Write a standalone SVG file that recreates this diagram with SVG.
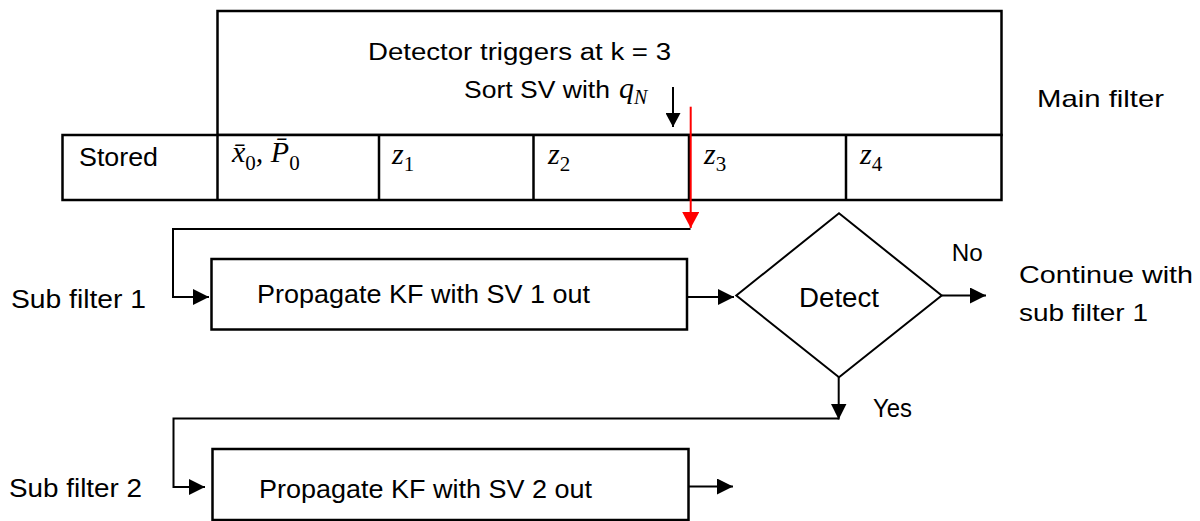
<svg xmlns="http://www.w3.org/2000/svg" width="1200" height="521" viewBox="0 0 1200 521">
<style>
.box{fill:#fff;stroke:#000;stroke-width:2.5}
.ln{fill:none;stroke:#000;stroke-width:2}
.t{font-family:"Liberation Sans",Arial,sans-serif;fill:#000}
.m{font-family:"Liberation Serif","Times New Roman",serif;font-style:italic;font-size:30px;fill:#000}
.sub{font-style:normal;font-size:21px}
</style>
<defs>
<marker id="ah" markerUnits="userSpaceOnUse" markerWidth="16" markerHeight="16" refX="16" refY="8" orient="auto" viewBox="0 0 16 16"><path d="M0,0 L16,8 L0,16 z" fill="#000"/></marker>
<marker id="ahs" markerUnits="userSpaceOnUse" markerWidth="14" markerHeight="15" refX="14" refY="7.5" orient="auto" viewBox="0 0 14 15"><path d="M0,0 L14,7.5 L0,15 z" fill="#000"/></marker>
<marker id="ahr" markerUnits="userSpaceOnUse" markerWidth="16" markerHeight="17" refX="16" refY="8.5" orient="auto" viewBox="0 0 16 17"><path d="M0,0 L16,8.5 L0,17 z" fill="#f00"/></marker>
</defs>
<rect width="1200" height="521" fill="#fff"/>

<g id="main-filter">
<rect class="box" x="217.5" y="11" width="784" height="124"/>
<text class="t" x="368" y="59.5" font-size="23" textLength="303" lengthAdjust="spacingAndGlyphs">Detector triggers at k = 3</text>
<text class="t" x="464" y="97.7" font-size="23" textLength="146" lengthAdjust="spacingAndGlyphs">Sort SV with</text>
<text class="m" x="619" y="97.5">q<tspan font-size="20" dy="6.5">N</tspan></text>
<text class="t" x="1037" y="106.7" font-size="24" textLength="127" lengthAdjust="spacingAndGlyphs">Main filter</text>
</g>

<g id="stored-row">
<rect class="box" x="62.5" y="135" width="939" height="65"/>
<line class="box" x1="217.5" y1="135" x2="217.5" y2="200"/>
<line class="box" x1="379" y1="135" x2="379" y2="200"/>
<line class="box" x1="533.5" y1="135" x2="533.5" y2="200"/>
<line class="box" x1="689" y1="135" x2="689" y2="200"/>
<line class="box" x1="846" y1="135" x2="846" y2="200"/>
<text class="t" x="79" y="165.7" font-size="26" textLength="79" lengthAdjust="spacingAndGlyphs">Stored</text>
<text class="m" x="232" y="162">x&#x304;<tspan class="sub" dy="8">0</tspan><tspan dy="-8">, P&#x304;</tspan><tspan class="sub" dy="8">0</tspan></text>
<text class="m" x="392" y="163.5">z<tspan class="sub" dy="7">1</tspan></text>
<text class="m" x="548" y="163.5">z<tspan class="sub" dy="7">2</tspan></text>
<text class="m" x="704" y="163.5">z<tspan class="sub" dy="7">3</tspan></text>
<text class="m" x="860" y="163.5">z<tspan class="sub" dy="7">4</tspan></text>
</g>

<g id="sub-filter-1">
<text class="t" x="11" y="308" font-size="25" textLength="135" lengthAdjust="spacingAndGlyphs">Sub filter 1</text>
<rect class="box" x="211.5" y="259" width="475.5" height="70.5"/>
<text class="t" x="257" y="303" font-size="26" textLength="333" lengthAdjust="spacingAndGlyphs">Propagate KF with SV 1 out</text>
</g>

<g id="detect">
<polygon class="ln" points="839,213.3 941.7,295.5 839,377.3 736.3,295.5"/>
<text class="t" x="799" y="306.7" font-size="27" textLength="80" lengthAdjust="spacingAndGlyphs">Detect</text>
</g>

<g id="continue">
<text class="t" x="1019" y="283.3" font-size="24" textLength="174" lengthAdjust="spacingAndGlyphs">Continue with</text>
<text class="t" x="1019" y="320.7" font-size="24" textLength="129" lengthAdjust="spacingAndGlyphs">sub filter 1</text>
</g>

<g id="sub-filter-2">
<text class="t" x="9" y="497" font-size="25" textLength="133" lengthAdjust="spacingAndGlyphs">Sub filter 2</text>
<rect class="box" x="212.5" y="449" width="476" height="71"/>
<text class="t" x="259" y="498" font-size="26" textLength="333" lengthAdjust="spacingAndGlyphs">Propagate KF with SV 2 out</text>
</g>

<g id="connectors">
<line class="ln" x1="673" y1="87" x2="673" y2="127" marker-end="url(#ahs)"/>
<path class="ln" d="M690.5,229 H173 V297 H209" marker-end="url(#ah)"/>
<line x1="690.7" y1="106.7" x2="690.7" y2="228" stroke="#f00" stroke-width="2" marker-end="url(#ahr)"/>
<line class="ln" x1="687" y1="297" x2="734" y2="297" marker-end="url(#ah)"/>
<line class="ln" x1="941.7" y1="295.5" x2="986" y2="295.5" marker-end="url(#ah)"/>
<line class="ln" x1="838.7" y1="377" x2="838.7" y2="419.5" marker-end="url(#ah)"/>
<path class="ln" d="M838.7,418.5 H173.5 V487 H205" marker-end="url(#ah)"/>
<line class="ln" x1="688.5" y1="486.5" x2="733" y2="486.5" marker-end="url(#ah)"/>
<text class="t" x="951.7" y="260.5" font-size="24" textLength="31" lengthAdjust="spacingAndGlyphs">No</text>
<text class="t" x="873" y="417.3" font-size="25" textLength="39" lengthAdjust="spacingAndGlyphs">Yes</text>
</g>
</svg>
